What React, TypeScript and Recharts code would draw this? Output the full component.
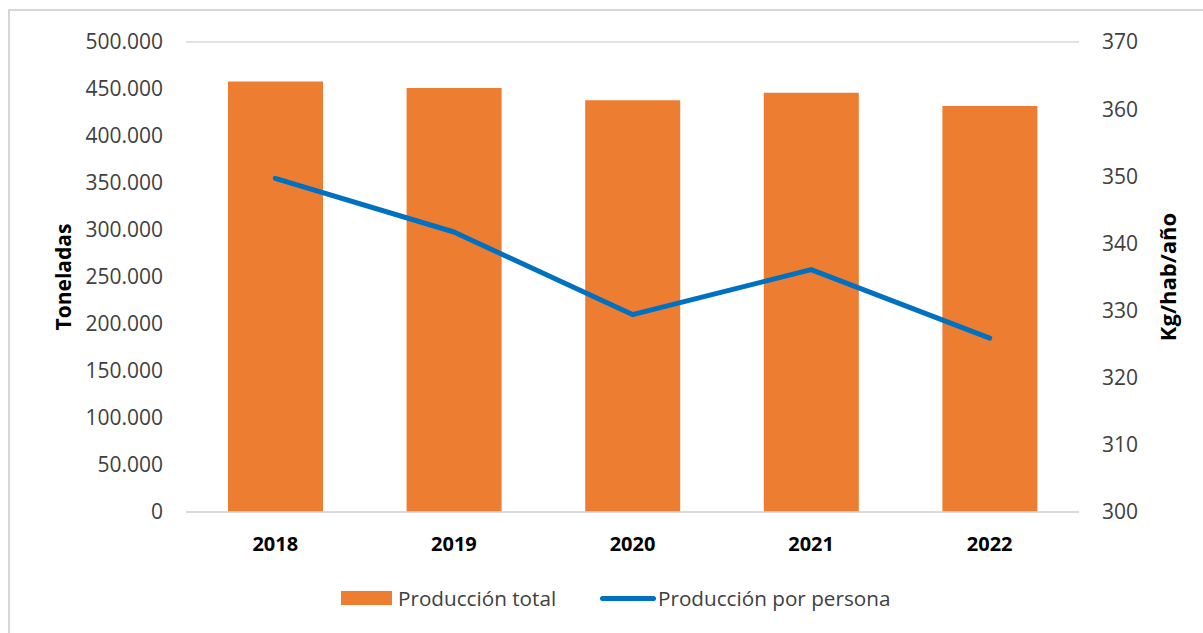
import React from 'react';
import { ComposedChart, Bar, Line, XAxis, YAxis, CartesianGrid, Legend } from 'recharts';

const years = ['2018', '2019', '2020', '2021', '2022'];
const totalProduction = [458000, 451000, 438000, 446000, 432000];
const perCapita = [349.7, 341.7, 329.4, 336.1, 325.9];
const leftTicks = [0, 50000, 100000, 150000, 200000, 250000, 300000, 350000, 400000, 450000, 500000];
const rightTicks = [300, 310, 320, 330, 340, 350, 360, 370];
const seriesNames = ['Producción total', 'Producción por persona'];
const axisTitles = ['Toneladas', 'Kg/hab/año'];

const data = years.map((y, i) => ({ year: y, total: totalProduction[i], perCapita: perCapita[i] }));

const FONT = '"Open Sans", sans-serif';
const ORANGE = '#ED7D31';
const BLUE = '#0070C0';
const GRID = '#d9d9d9';

const fmt = (v: number) => v.toLocaleString('de-DE');

const LegendContent = () => (
  <div style={{ position: 'relative', width: 1203, height: 30, fontFamily: FONT, fontSize: 20.7, color: '#404040' }}>
    <div style={{ position: 'absolute', left: 341, top: 6, width: 51, height: 14, background: ORANGE }} />
    <div style={{ position: 'absolute', left: 398, top: 0, lineHeight: '26px', whiteSpace: 'nowrap' }}>{seriesNames[0]}</div>
    <div style={{ position: 'absolute', left: 600, top: 11, width: 56, height: 5, borderRadius: 3, background: BLUE }} />
    <div style={{ position: 'absolute', left: 658, top: 0, lineHeight: '26px', whiteSpace: 'nowrap' }}>{seriesNames[1]}</div>
  </div>
);

export default function App() {
  return (
    <div style={{ position: 'absolute', left: 0, top: 0, width: 1203, height: 633, overflow: 'hidden', background: '#fff' }}>
      <div style={{ position: 'absolute', left: 8, top: 9, width: 1400, height: 800, border: '2px solid #d6d6d6', boxSizing: 'border-box' }} />
      <ComposedChart
        width={1203}
        height={633}
        data={data}
        margin={{ top: 42, right: 0, bottom: 61, left: 0 }}
        style={{ position: 'absolute', left: 0, top: 0 }}
      >
        <CartesianGrid vertical={false} stroke={GRID} strokeWidth={1.5} />
        <XAxis
          dataKey="year"
          height={60}
          axisLine={{ stroke: GRID, strokeWidth: 1.5 }}
          tickLine={false}
          tickSize={0}
          tickMargin={25}
          tick={{ fontFamily: FONT, fontSize: 20, fontWeight: 700, fill: '#000' }}
        />
        <YAxis
          yAxisId="left"
          orientation="left"
          width={186}
          domain={[0, 500000]}
          ticks={leftTicks}
          interval={0}
          tickFormatter={fmt}
          axisLine={false}
          tickLine={false}
          tickSize={0}
          tickMargin={23}
          tick={{ fontFamily: FONT, fontSize: 21, fill: '#404040' }}
          label={{
            content: (p: any) => {
              const vb = p.viewBox || { y: 42, height: 469 };
              const cy = vb.y + vb.height / 2;
              return (
                <text x={63} y={cy} transform={`rotate(-90 63 ${cy})`} textAnchor="middle" dominantBaseline="central"
                  fontFamily={FONT} fontSize={21} fontWeight={700} fill="#000">{axisTitles[0]}</text>
              );
            },
          }}
        />
        <YAxis
          yAxisId="right"
          orientation="right"
          width={124}
          domain={[300, 370]}
          ticks={rightTicks}
          interval={0}
          axisLine={false}
          tickLine={false}
          tickSize={0}
          tickMargin={23}
          tick={{ fontFamily: FONT, fontSize: 21, fill: '#404040', textAnchor: 'start' }}
          label={{
            content: (p: any) => {
              const vb = p.viewBox || { y: 42, height: 469 };
              const cy = vb.y + vb.height / 2;
              return (
                <text x={1167} y={cy} transform={`rotate(-90 1167 ${cy})`} textAnchor="middle" dominantBaseline="central"
                  fontFamily={FONT} fontSize={22} fontWeight={700} fill="#000">{axisTitles[1]}</text>
              );
            },
          }}
        />
        <Bar yAxisId="left" dataKey="total" name={seriesNames[0]} fill={ORANGE} barSize={95} isAnimationActive={false} />
        <Line
          yAxisId="right"
          type="linear"
          dataKey="perCapita"
          name={seriesNames[1]}
          stroke={BLUE}
          strokeWidth={5}
          strokeLinecap="round"
          strokeLinejoin="round"
          dot={false}
          activeDot={false}
          isAnimationActive={false}
        />
        <Legend
          content={<LegendContent />}
          wrapperStyle={{ position: 'absolute', left: 0, top: 585, width: 1203, height: 0, overflow: 'visible' }}
        />
      </ComposedChart>
    </div>
  );
}
